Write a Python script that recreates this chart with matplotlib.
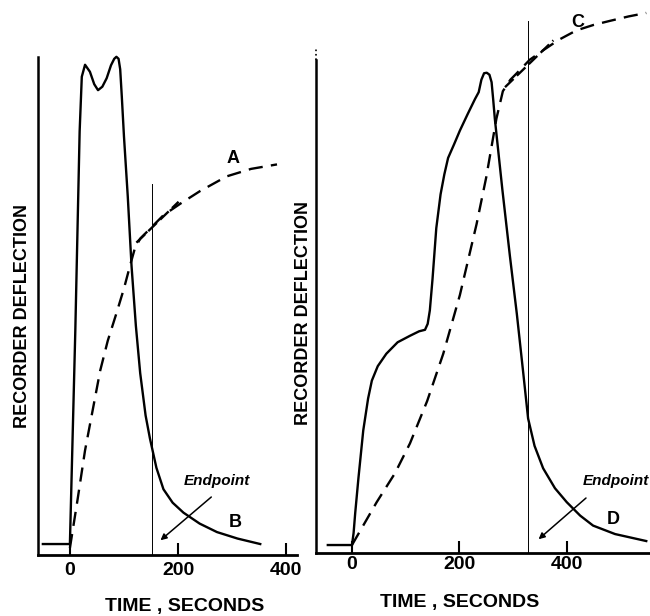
import matplotlib.pyplot as plt

# left record: solid trace B and dashed integral A (time in s, arbitrary deflection)
t_b = [-50, 0, 10, 18, 22, 28, 37, 45, 52, 60, 68, 76, 82, 86, 90, 93, 96, 100, 107, 114,
       122, 130, 140, 148, 160, 173, 190, 210, 240, 272, 310, 352]
y_b = [2.2, 2.2, 45, 85, 96, 98.4, 97, 94.5, 93.3, 94, 95.7, 98.3, 99.6, 100, 99.6, 97.5, 92,
       84, 72, 58, 46, 36.5, 28, 23.4, 17.5, 13.2, 10.5, 8.5, 6.3, 4.6, 3.3, 2.2]
t_a = [0, 14, 28, 42, 56, 70, 86, 100, 111, 120, 130, 151, 173, 204, 240, 290, 335, 383]
y_a = [1.4, 11, 21, 29, 37, 43, 48.5, 53.5, 58, 61.5, 63.5, 65.8, 68.2, 70.5, 73, 76, 77.5, 78.4]
tan_a_t = [123, 201]
tan_a_y = [62.7, 70.9]
end_left = 151

# right record: solid trace D and dashed integral C
t_d = [-45, 0, 3, 6, 12, 21, 30, 37, 48, 64, 85, 108, 125, 136, 141, 145, 150, 157, 165, 172,
       179, 190, 201, 215, 229, 236, 241, 246, 251, 256, 260, 263, 266, 280, 294, 307, 319,
       328, 340, 356, 378, 400, 425, 449, 490, 548]
y_d = [1.6, 1.6, 4, 8, 15, 24.6, 31, 34.6, 37.5, 40, 42.3, 43.6, 44.5, 44.8, 46, 48.7, 55, 65.2,
       72, 76, 79.3, 82, 84.8, 88, 91.1, 92.5, 95, 96.3, 96.4, 96, 94.5, 91, 87.2, 73, 59.7, 48,
       36.1, 27, 21.5, 17, 13, 10.2, 7.5, 5.5, 3.8, 2.4]
t_c = [0, 46, 80, 108, 140, 170, 201, 232, 250, 269, 281, 295, 306, 331, 356, 385, 418, 450,
       480, 515, 548]
y_c = [1.6, 10.2, 16, 22, 30.5, 40, 51.8, 66, 75.4, 87.2, 92.7, 95, 96.2, 99, 100.9, 103, 104.9,
       106, 106.8, 107.7, 108.4]
tan_c_t = [285, 375]
tan_c_y = [93.5, 102.9]
end_right = 328

xticks = [0, 200, 400]

plt.rcParams['font.family'] = ['Liberation Sans', 'DejaVu Sans']
fig = plt.figure(figsize=(6.5, 6.16), dpi=100)
ax1 = fig.add_axes([38 / 650, 1 - 555 / 616, 259 / 650, 555 / 616])
ax2 = fig.add_axes([316 / 650, 1 - 553 / 616, 334 / 650, 553 / 616])

dash = (6, 3.5)
for ax in (ax1, ax2):
    for s in ('top', 'right'):
        ax.spines[s].set_visible(False)
    ax.spines['left'].set_linewidth(1.8)
    ax.spines['bottom'].set_linewidth(2.0)
    ax.set_yticks([])
    ax.set_xticks(xticks)
    ax.tick_params(axis='x', direction='in', length=8.5, width=1.5, labelsize=14)
    for lb in ax.get_xticklabels():
        lb.set_fontweight('bold')

# left panel
ax1.set_xlim(-59, 420)
ax1.set_ylim(0, 111.4)
ax1.spines['left'].set_bounds(0, 100)
ax1.tick_params(axis='x', pad=5)
ax1.plot(t_b, y_b, color='black', lw=1.7)
ax1.plot(t_a, y_a, color='black', lw=1.7, dashes=dash)
ax1.plot(tan_a_t, tan_a_y, color='black', lw=1.7, dashes=(5, 2))
ax1.plot([end_left, end_left], [0, 74.5], color='black', lw=0.7)
ax1.text(302, 79.5, 'A', ha='center', va='center', fontsize=13, fontweight='bold')
ax1.text(305, 6.5, 'B', ha='center', va='center', fontsize=13, fontweight='bold')
ax1.annotate('', xy=(163.6, 2.6), xytext=(265.4, 12),
             arrowprops=dict(arrowstyle='-|>', lw=1.1, color='black', mutation_scale=9))
ax1.text(271.6, 14.8, 'Endpoint', ha='center', va='center', fontsize=11,
         fontweight='bold', style='italic')

# right panel
ax2.set_xlim(-67, 555)
ax2.set_ylim(0, 111)
ax2.spines['left'].set_bounds(0, 99)
ax2.plot([-67, -67], [99, 101.5], color='black', lw=1.2, ls=':', clip_on=False)
ax2.tick_params(axis='x', pad=2)
ax2.plot(t_d, y_d, color='black', lw=1.7)
ax2.plot(t_c, y_c, color='black', lw=1.7, dashes=dash)
ax2.plot(tan_c_t, tan_c_y, color='black', lw=1.7, dashes=(5, 2))
ax2.plot([end_right, end_right], [0, 106.8], color='black', lw=0.7)
ax2.text(421, 106.4, 'C', ha='center', va='center', fontsize=13, fontweight='bold')
ax2.text(486, 6.7, 'D', ha='center', va='center', fontsize=13, fontweight='bold')
ax2.annotate('', xy=(343.6, 2.4), xytext=(439.7, 11.4),
             arrowprops=dict(arrowstyle='-|>', lw=1.1, color='black', mutation_scale=9))
ax2.text(492.4, 14.4, 'Endpoint', ha='center', va='center', fontsize=11,
         fontweight='bold', style='italic', clip_on=False)

# axis titles
fig.text(23 / 650, 1 - 316 / 616, 'RECORDER DEFLECTION', rotation=90, ha='center',
         va='center', fontsize=13, fontweight='bold')
fig.text(303 / 650, 1 - 313 / 616, 'RECORDER DEFLECTION', rotation=90, ha='center',
         va='center', fontsize=13, fontweight='bold')
fig.text(185 / 650, 1 - 607 / 616, 'TIME , SECONDS', ha='center', va='center',
         fontsize=14, fontweight='bold')
fig.text(460 / 650, 1 - 602 / 616, 'TIME , SECONDS', ha='center', va='center',
         fontsize=14, fontweight='bold')

fig.savefig('out.png', dpi=100)
